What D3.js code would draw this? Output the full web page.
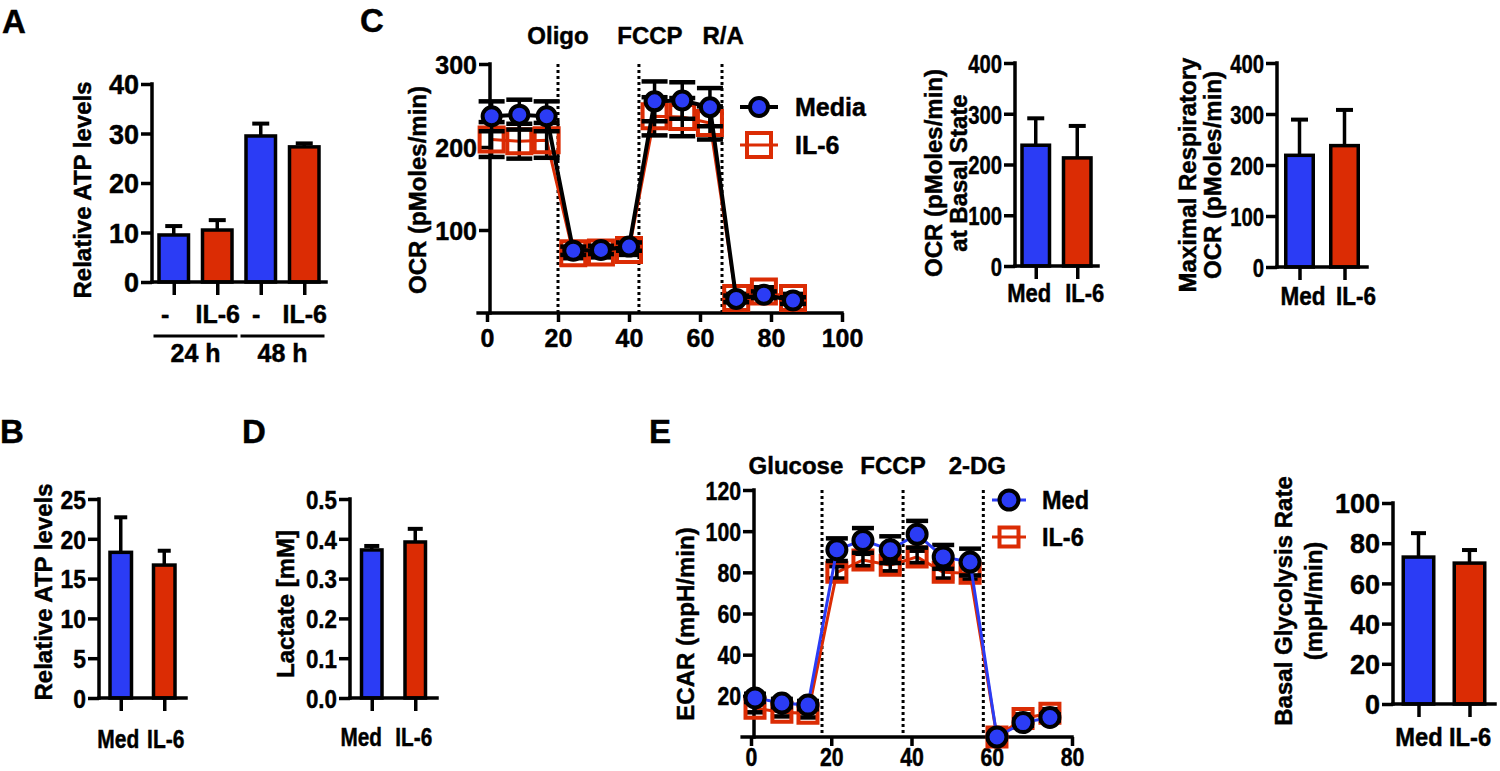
<!DOCTYPE html>
<html><head><meta charset="utf-8">
<script src="https://cdn.jsdelivr.net/npm/d3@7"></script>
<style>
body{margin:0;background:#fff}
svg{display:block}
text{font-family:"Liberation Sans",Arial,Helvetica,sans-serif;font-weight:bold;fill:#000;stroke:#000;stroke-width:0.45px}
</style>
</head><body>
<svg id="fig" width="1500" height="771"></svg>
<script>
// ---------------- DATA ----------------
const BLUE = "#2b3cf5", RED = "#db2c04";
const groupColors = [BLUE, RED];

// Panel A
const aLabels = ["-", "IL-6", "-", "IL-6"];
const aGroups = ["24 h", "48 h"];
const aValues = [9.5, 10.5, 29.5, 27.3];
const aErrors = [1.8, 2.0, 2.5, 0.7];
const aTicks = [0, 10, 20, 30, 40];

// Two-group bar panels
const medLabels = ["Med", "IL-6"];
const bValues = [18.3, 16.7], bErrors = [4.4, 1.8], bTicks = [0, 5, 10, 15, 20, 25];
const dValues = [0.372, 0.392], dErrors = [0.010, 0.033], dTicks = [0, 0.1, 0.2, 0.3, 0.4, 0.5];
const basalValues = [238, 213], basalErrors = [53, 63];
const maxValues = [219, 238], maxErrors = [70, 70];
const ocrBarTicks = [0, 100, 200, 300, 400];
const glyValues = [73.1, 70.1], glyErrors = [11.9, 6.5], glyTicks = [0, 20, 40, 60, 80, 100];

// Panel C line (OCR)
const cTime   = [1.3, 9.1, 16.8, 24.3, 32.1, 40.0, 47.2, 55.0, 62.8, 70.2, 78.0, 86.2];
const cMedia  = [237, 239, 237, 75, 76, 80, 255, 256, 248, 17, 22, 15];
const cMediaErr = [18, 18, 18, 5, 5, 5, 24, 22, 23, 4, 4, 4];
const cIL6    = [209, 207, 208, 72, 73, 76, 237, 236, 229, 18, 26, 18];
const cIL6Err = [21, 21, 21, 6, 6, 6, 23, 23, 20, 5, 5, 5];
const cXTicks = [0, 20, 40, 60, 80, 100], cYTicks = [100, 200, 300];
const cInjections = [20, 42.8, 66.2];
const cInjLabels = ["Oligo", "FCCP", "R/A"];
const cSeriesNames = ["Media", "IL-6"];

// Panel E line (ECAR)
const eTime   = [1.0, 7.7, 14.2, 21.4, 27.9, 34.7, 41.4, 47.9, 54.6, 61.3, 67.8, 74.5];
const eMed    = [19, 16.5, 15.5, 91, 95.5, 91, 98.5, 87.5, 85, 0, 7, 9.5];
const eMedErr = [2, 2, 2, 5.5, 6, 6.5, 6.5, 5.8, 6.5, 1, 1.5, 1.5];
const eIL6    = [14, 12, 11.5, 80, 86, 83.5, 87.5, 80, 79.5, 0, 9, 11.5];
const eIL6Err = [2, 2, 2, 3, 3, 3, 3, 3, 3, 1, 2, 2];
const eXTicks = [0, 20, 40, 60, 80], eYTicks = [20, 40, 60, 80, 100, 120];
const eInjections = [17.7, 37.9, 57.9];
const eInjLabels = ["Glucose", "FCCP", "2-DG"];
const eSeriesNames = ["Med", "IL-6"];

// ---------------- HELPERS ----------------
const svg = d3.select("#fig");
svg.append("rect").attr("width", 1500).attr("height", 771).attr("fill", "#fff");

function label(g, x, y, str, o = {}) {
  const t = g.append("text").text(str)
    .attr("font-size", o.size || 24)
    .attr("text-anchor", o.anchor || "middle");
  let tr = `translate(${x},${y})`;
  if (o.sx && o.sx !== 1) tr += ` scale(${o.sx},1)`;
  if (o.rot) tr += " rotate(-90)";
  t.attr("transform", tr);
  if (o.central) t.attr("dominant-baseline", "central");
  return t;
}
function seg(g, x1, y1, x2, y2, w = 3.5, col = "#000") {
  return g.append("line").attr("x1", x1).attr("y1", y1).attr("x2", x2).attr("y2", y2)
    .attr("stroke", col).attr("stroke-width", w).attr("stroke-linecap", "square");
}

function barPanel(cfg) {
  const g = svg.append("g");
  const y = d3.scaleLinear().domain([0, cfg.max]).range([cfg.y0, cfg.y1]);
  const x = d3.scalePoint().domain(d3.range(cfg.values.length)).range([cfg.ax, cfg.axEnd]).padding(0.5);
  const sw = 3.5;
  cfg.values.forEach((v, i) => {
    const cx = x(i), e = cfg.errors[i];
    seg(g, cx, y(v), cx, y(v + e), 3.5).attr("stroke-linecap", "butt");
    seg(g, cx - cfg.capW / 2, y(v + e), cx + cfg.capW / 2, y(v + e), 4).attr("stroke-linecap", "butt");
  });
  cfg.values.forEach((v, i) => {
    const cx = x(i), w = cfg.barW;
    g.append("rect").attr("x", cx - w / 2 + sw / 2).attr("y", y(v))
      .attr("width", w - sw).attr("height", y(0) - y(v))
      .attr("fill", cfg.colors[i]).attr("stroke", "#000").attr("stroke-width", sw);
  });
  const sx = cfg.tsx || 1;
  const ya = g.append("g").attr("transform", `translate(${cfg.ax},0)`)
    .call(d3.axisLeft(y).tickValues(cfg.ticks).tickSize(11).tickPadding(2).tickFormat(cfg.fmt || d3.format("d")));
  ya.select(".domain").remove();
  ya.selectAll(".tick line").attr("stroke", "#000").attr("stroke-width", 3.5);
  ya.selectAll(".tick text").attr("font-size", cfg.tsize || 26).attr("font-family", null)
    .attr("x", -13 / sx).attr("dy", "0.36em").attr("transform", `scale(${sx},1)`);
  const xa = g.append("g").attr("transform", `translate(0,${cfg.y0})`)
    .call(d3.axisBottom(x).tickSize(13).tickFormat(i => cfg.labels[i]));
  xa.select(".domain").remove();
  xa.selectAll(".tick line").attr("stroke", "#000").attr("stroke-width", 3.5);
  const lsx = cfg.lsx || 1, ldx = cfg.ldx || cfg.values.map(() => 0);
  xa.selectAll(".tick text").attr("font-size", cfg.lsize || 25).attr("font-family", null)
    .attr("y", cfg.labelY - cfg.y0).attr("dy", null)
    .attr("transform", (d, i) => `translate(${ldx[i]},0) scale(${lsx},1)`);
  seg(g, cfg.ax, y(cfg.max), cfg.ax, y(0));
  seg(g, cfg.ax, y(0), cfg.axEnd, y(0));
  cfg.title.forEach((t, k) => label(g, cfg.titleX[k], cfg.titleY, t, {rot: true, central: true, size: 24}));
  return {g, x, y};
}

function squarePath(s) { return `M${-s/2},${-s/2}h${s}v${s}h${-s}Z`; }

function linePanel(cfg) {
  const g = svg.append("g");
  const x = d3.scaleLinear().domain(cfg.xDom).range(cfg.xRange);
  const y = d3.scaleLinear().domain(cfg.yDom).range(cfg.yRange);
  const sx = cfg.tsx || 1;
  cfg.inj.forEach((v, i) => {
    g.append("line").attr("x1", x(v)).attr("x2", x(v)).attr("y1", y(cfg.yDom[1])).attr("y2", y(0))
      .attr("stroke", "#000").attr("stroke-width", 3).attr("stroke-dasharray", "3,3");
    label(g, x(cfg.injLabelX[i]), cfg.injLabelY, cfg.injLabels[i], {size: 24});
  });
  const ya = g.append("g").attr("transform", `translate(${cfg.yAxisX},0)`)
    .call(d3.axisLeft(y).tickValues(cfg.yTicks).tickSize(11).tickPadding(2));
  ya.select(".domain").remove();
  ya.selectAll(".tick line").attr("stroke", "#000").attr("stroke-width", 3.5);
  ya.selectAll(".tick text").attr("font-size", cfg.tsize || 25).attr("font-family", null)
    .attr("x", -13 / sx).attr("dy", "0.36em").attr("transform", `scale(${sx},1)`);
  const xa = g.append("g").attr("transform", `translate(0,${y(0)})`)
    .call(d3.axisBottom(x).tickValues(cfg.xTicks).tickSize(9));
  xa.select(".domain").remove();
  xa.selectAll(".tick line").attr("stroke", "#000").attr("stroke-width", 3.5);
  xa.selectAll(".tick text").attr("font-size", cfg.tsize || 25).attr("font-family", null)
    .attr("y", cfg.xLabelY - y(0)).attr("dy", null).attr("transform", `scale(${sx},1)`);
  seg(g, cfg.yAxisX, y(cfg.yDom[1]), cfg.yAxisX, y(0));
  seg(g, x(cfg.xStart), y(0), x(cfg.xDom[1]), y(0));

  const lineGen = vals => d3.line().x((d, i) => x(cfg.time[i])).y(d => y(d))(vals);
  g.append("path").attr("d", lineGen(cfg.s2)).attr("fill", "none").attr("stroke", RED).attr("stroke-width", cfg.w2);
  const drawErr = (vals, errs) => vals.forEach((v, i) => {
    const cx = x(cfg.time[i]);
    seg(g, cx, y(v - errs[i]), cx, y(v + errs[i]), 3.5).attr("stroke-linecap", "butt");
    [v - errs[i], v + errs[i]].forEach(t => seg(g, cx - cfg.capW / 2, y(t), cx + cfg.capW / 2, y(t), 4.5).attr("stroke-linecap", "butt"));
  });
  drawErr(cfg.s2, cfg.e2);
  cfg.s2.forEach((v, i) => g.append("path").attr("d", squarePath(cfg.sq))
    .attr("transform", `translate(${x(cfg.time[i])},${y(v)})`)
    .attr("fill", "none").attr("stroke", RED).attr("stroke-width", 4));
  drawErr(cfg.s1, cfg.e1);
  g.append("path").attr("d", lineGen(cfg.s1)).attr("fill", "none").attr("stroke", cfg.c1line).attr("stroke-width", cfg.w1);
  cfg.s1.forEach((v, i) => g.append("circle").attr("cx", x(cfg.time[i])).attr("cy", y(v)).attr("r", cfg.r)
    .attr("fill", BLUE).attr("stroke", "#000").attr("stroke-width", 4));
  const L = cfg.legend;
  seg(g, L.x - L.len / 2, L.y1, L.x + L.len / 2, L.y1, cfg.w1, cfg.c1line).attr("stroke-linecap", "butt");
  g.append("circle").attr("cx", L.x).attr("cy", L.y1).attr("r", cfg.r).attr("fill", BLUE).attr("stroke", "#000").attr("stroke-width", 4);
  seg(g, L.x - L.len / 2, L.y2, L.x + L.len / 2, L.y2, cfg.w2, RED).attr("stroke-linecap", "butt");
  g.append("path").attr("d", squarePath(cfg.sq)).attr("transform", `translate(${L.x},${L.y2})`)
    .attr("fill", "none").attr("stroke", RED).attr("stroke-width", 4);
  label(g, L.tx, L.y1, cfg.names[0], {anchor: "start", central: true, size: 25, sx: L.sx});
  label(g, L.tx, L.y2, cfg.names[1], {anchor: "start", central: true, size: 25, sx: L.sx});
  label(g, cfg.titleX, cfg.titleY, cfg.title, {rot: true, central: true, size: 24});
  return {g, x, y};
}

// ---------------- PANEL LETTERS ----------------
[["A", 2, 33], ["C", 360, 32], ["B", 0, 443], ["D", 242, 443], ["E", 649, 443]]
  .forEach(([t, x, y]) => label(svg, x, y, t, {anchor: "start", size: 33}));

// ---------------- PANEL A ----------------
const pA = barPanel({
  values: aValues, errors: aErrors, labels: aLabels, colors: [BLUE, RED, BLUE, RED],
  max: 40, ticks: aTicks, y0: 282, y1: 84, ax: 152, axEnd: 326, barW: 33, capW: 17,
  labelY: 323, title: ["Relative ATP levels"], titleX: [82], titleY: 190, tsize: 27, lsx: 1,
  ldx: [-9, 0, -5, 0]
});
aGroups.forEach((gname, k) => {
  const m = (pA.x(2 * k) + pA.x(2 * k + 1)) / 2;
  seg(pA.g, m - 42, 336, m + 42, 336, 3).attr("stroke-linecap", "butt");
  label(pA.g, m, 362, gname, {size: 25});
});

// ---------------- PANEL C bars ----------------
barPanel({
  values: basalValues, errors: basalErrors, labels: medLabels, colors: groupColors,
  max: 400, ticks: ocrBarTicks, y0: 266, y1: 63, ax: 1015, axEnd: 1098, barW: 31, capW: 17,
  labelY: 302, title: ["OCR (pMoles/min)", "at Basal State"], titleX: [933, 958], titleY: 173,
  tsize: 26, tsx: 0.78, lsx: 0.88, ldx: [-7, 7]
});
barPanel({
  values: maxValues, errors: maxErrors, labels: medLabels, colors: groupColors,
  max: 400, ticks: ocrBarTicks, y0: 267, y1: 63, ax: 1277, axEnd: 1367, barW: 31, capW: 17,
  labelY: 305, title: ["Maximal Respiratory", "OCR (pMoles/min)"], titleX: [1187, 1212], titleY: 175,
  tsize: 26, tsx: 0.78, lsx: 0.9, ldx: [3, 11]
});

// ---------------- PANEL B ----------------
barPanel({
  values: bValues, errors: bErrors, labels: medLabels, colors: groupColors,
  max: 25, ticks: bTicks, y0: 698, y1: 499, ax: 99, axEnd: 186, barW: 25, capW: 13,
  labelY: 748, title: ["Relative ATP levels"], titleX: [43], titleY: 592,
  tsize: 26, tsx: 0.88, lsx: 0.84, ldx: [-3, 1]
});

// ---------------- PANEL D ----------------
barPanel({
  values: dValues, errors: dErrors, labels: medLabels, colors: groupColors,
  max: 0.5, ticks: dTicks, fmt: d3.format(".1f"), y0: 698, y1: 499, ax: 350, axEnd: 437, barW: 24, capW: 15,
  labelY: 746, title: ["Lactate [mM]"], titleX: [285], titleY: 604,
  tsize: 26, tsx: 0.86, lsx: 0.83, ldx: [-11, -2]
});

// ---------------- PANEL E bar ----------------
barPanel({
  values: glyValues, errors: glyErrors, labels: medLabels, colors: groupColors,
  max: 100, ticks: glyTicks, y0: 704, y1: 503, ax: 1393, axEnd: 1495, barW: 34, capW: 15,
  labelY: 746, title: ["Basal Glycolysis Rate", "(mpH/min)"], titleX: [1283, 1313], titleY: 601,
  tsize: 27, tsx: 1, lsx: 0.95, ldx: [0, 0]
});

// ---------------- PANEL C line ----------------
linePanel({
  time: cTime, s1: cMedia, e1: cMediaErr, s2: cIL6, e2: cIL6Err, names: cSeriesNames,
  xDom: [0, 100], xRange: [487, 842], yDom: [0, 300], yRange: [313, 64], xStart: -2.5,
  yAxisX: 490, xTicks: cXTicks, yTicks: cYTicks, xLabelY: 347, tsize: 25, tsx: 1,
  inj: cInjections, injLabels: cInjLabels, injLabelX: [20, 45.9, 66.5], injLabelY: 44,
  c1line: "#000", w1: 4, w2: 3, r: 9, sq: 24, capW: 26,
  legend: {x: 759, len: 38, y1: 107, y2: 145, tx: 795, sx: 1},
  title: "OCR (pMoles/min)", titleX: 417, titleY: 190
});

// ---------------- PANEL E line ----------------
linePanel({
  time: eTime, s1: eMed, e1: eMedErr, s2: eIL6, e2: eIL6Err, names: eSeriesNames,
  xDom: [0, 80], xRange: [751, 1072], yDom: [0, 120], yRange: [737, 490], xStart: -2.2,
  yAxisX: 754, xTicks: eXTicks, yTicks: eYTicks, xLabelY: 766, tsize: 25, tsx: 0.85,
  inj: eInjections, injLabels: eInjLabels, injLabelX: [11.2, 35.4, 56.4], injLabelY: 474,
  c1line: BLUE, w1: 3, w2: 3, r: 9.5, sq: 19, capW: 22,
  legend: {x: 1009, len: 34, y1: 500, y2: 537, tx: 1042, sx: 0.94},
  title: "ECAR (mpH/min)", titleX: 685, titleY: 624
});
</script>
</body></html>
